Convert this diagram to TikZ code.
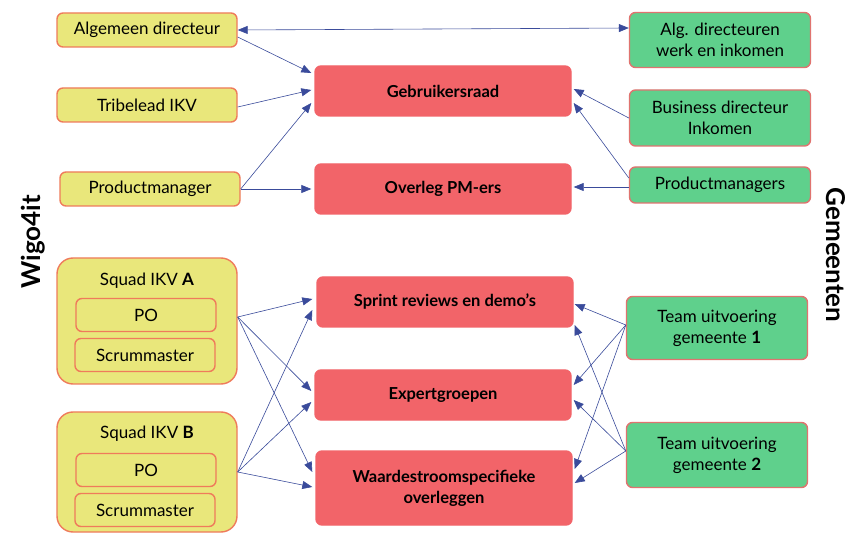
\documentclass[tikz,border=0pt]{standalone}
\usepackage{fontspec}
\setmainfont{Lato}
\usetikzlibrary{arrows.meta}
\definecolor{yfill}{HTML}{E9E77B}
\definecolor{yline}{HTML}{EF7B5B}
\definecolor{rfill}{HTML}{F26469}
\definecolor{gfill}{HTML}{5FD08C}
\definecolor{gline}{HTML}{E0736F}
\definecolor{link}{HTML}{3A4B9B}
\begin{document}
\begin{tikzpicture}[x=1pt,y=-1pt,
  base/.style={draw, line width=1.4pt, rounded corners=6pt, inner sep=0pt, align=center,
    font=\fontsize{17}{21}\selectfont},
  ybox/.style={base, fill=yfill, draw=yline, minimum width=180pt, minimum height=34pt},
  ibox/.style={base, fill=yfill, draw=yline, minimum width=140pt, minimum height=33pt},
  squad/.style={base, fill=yfill, draw=yline, rounded corners=16pt, minimum width=180pt},
  rbox/.style={base, fill=rfill, draw=rfill, minimum width=256pt, minimum height=50pt,
    font=\fontsize{16.5}{21}\selectfont\bfseries},
  gbox/.style={base, fill=gfill, draw=gline, minimum width=181pt},
  conn/.style={draw=link, line width=0.6pt, -{Triangle[length=10pt,width=8pt]}},
  side/.style={font=\fontsize{26}{30}\selectfont\bfseries}]
\path[use as bounding box, fill=white] (0,0) rectangle (846,534);

% side titles
\node[side, rotate=90] (wigo) at (33,242) {Wigo4it};
\node[side, rotate=-90] (gem) at (836,255) {Gemeenten};

% Wigo4it side
\node[ybox] (ad) at (147,30) {Algemeen directeur};
\node[ybox] (tl) at (147,105) {Tribelead IKV};
\node[ybox] (pm) at (150,189) {Productmanager};

\node[squad, minimum height=126pt] (sqa) at (147,321) {};
\node[base, draw=none] (sqat) at (147,281) {Squad IKV \textbf{A}};
\node[ibox] (sqapo) at (146,315) {PO};
\node[ibox] (sqasm) at (145,355) {Scrummaster};

\node[squad, minimum height=120pt] (sqb) at (147,472) {};
\node[base, draw=none] (sqbt) at (147,434) {Squad IKV \textbf{B}};
\node[ibox] (sqbpo) at (146,470) {PO};
\node[ibox] (sqbsm) at (145,510) {Scrummaster};

% meetings
\node[rbox] (gr) at (443,91) {Gebruikersraad};
\node[rbox] (op) at (443,189) {Overleg PM-ers};
\node[rbox] (sr) at (445,302) {Sprint reviews en demo's};
\node[rbox] (eg) at (443,395) {Expertgroepen};
\node[rbox, minimum height=74pt] (ws) at (444,488) {Waardestroomspecifieke\\overleggen};

% municipalities
\node[gbox, minimum height=55pt] (agd) at (720,40) {Alg. directeuren\\werk en inkomen};
\node[gbox, minimum height=56pt] (bd) at (720,118) {Business directeur\\Inkomen};
\node[gbox, minimum height=36pt] (pms) at (720,185) {Productmanagers};
\node[gbox, minimum height=63pt] (t1) at (717,328) {Team uitvoering\\gemeente \textbf{1}};
\node[gbox, minimum height=65pt] (t2) at (717,455) {Team uitvoering\\gemeente \textbf{2}};

% connections
\draw[conn, {Triangle[length=10pt,width=8pt]}-{Triangle[length=10pt,width=8pt]}]
  (ad.east) -- ([yshift=12pt]agd.west);
\draw[conn] ([yshift=-7pt]ad.east) -- ([xshift=-3pt,yshift=18pt]gr.west);
\draw[conn] ([yshift=-2pt]tl.east) -- ([xshift=-3pt,yshift=1pt]gr.west);
\draw[conn] (pm.east) -- ([xshift=-3pt,yshift=-12pt]gr.west);
\draw[conn] (pm.east) -- ([xshift=-3pt]op.west);

\draw[conn] (bd.west) -- ([xshift=2pt,yshift=2pt]gr.east);
\draw[conn] ([yshift=7pt]pms.west) -- ([xshift=2pt,yshift=-12pt]gr.east);
\draw[conn] ([yshift=-2pt]pms.west) -- ([xshift=2pt,yshift=2pt]op.east);

\draw[conn] ([yshift=4pt]sqa.east) -- ([xshift=-4pt,yshift=3pt]sr.west);
\draw[conn] ([yshift=4pt]sqa.east) -- ([xshift=-3pt,yshift=4pt]eg.west);
\draw[conn] ([yshift=4pt]sqa.east) -- ([xshift=-3pt,yshift=16pt]ws.west);
\draw[conn] (sqb.east) -- ([xshift=-4pt,yshift=-8pt]sr.west);
\draw[conn] (sqb.east) -- ([xshift=-3pt,yshift=-7pt]eg.west);
\draw[conn] (sqb.east) -- ([xshift=-3pt,yshift=1pt]ws.west);

\draw[conn] ([yshift=3pt]t1.west) -- ([xshift=1pt,yshift=-2pt]sr.east);
\draw[conn] ([yshift=3pt]t1.west) -- ([xshift=2pt,yshift=10pt]eg.east);
\draw[conn] ([yshift=3pt]t1.west) -- ([xshift=2pt,yshift=19pt]ws.east);
\draw[conn] ([yshift=4pt]t2.west) -- ([xshift=1pt,yshift=-23pt]sr.east);
\draw[conn] ([yshift=4pt]t2.west) -- ([xshift=2pt,yshift=-5pt]eg.east);
\draw[conn] ([yshift=4pt]t2.west) -- ([xshift=2pt,yshift=5pt]ws.east);
\end{tikzpicture}
\end{document}
